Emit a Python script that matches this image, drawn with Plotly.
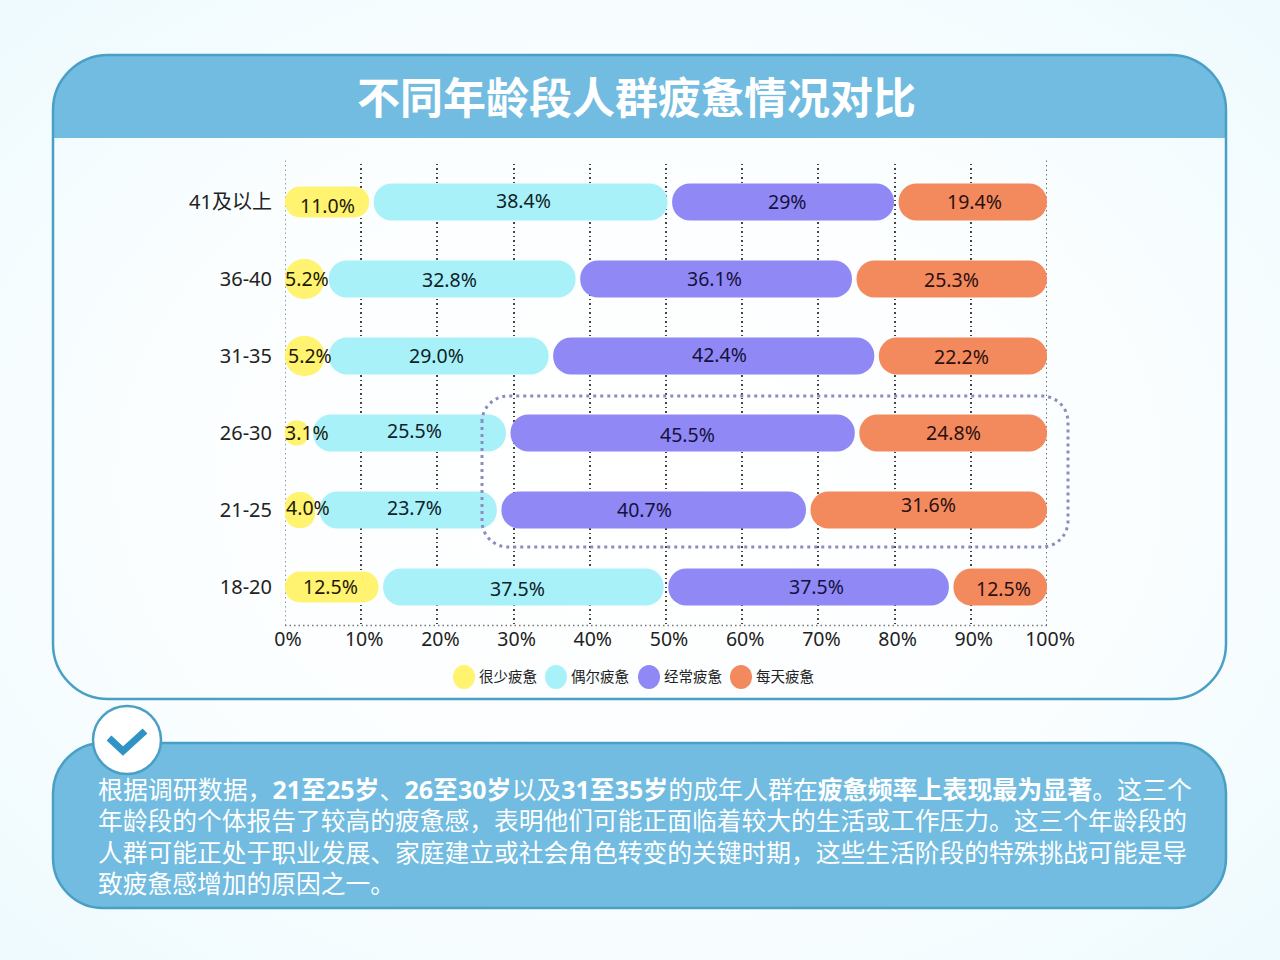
import base64
import numpy as np
import plotly.graph_objects as go

# data, top row first
age_groups = ["41及以上", "36-40", "31-35", "26-30", "21-25", "18-20"]
rarely = [11.0, 5.2, 5.2, 3.1, 4.0, 12.5]
sometimes = [38.4, 32.8, 29.0, 25.5, 23.7, 37.5]
often = [29.0, 36.1, 42.4, 45.5, 40.7, 37.5]
daily = [19.4, 25.3, 22.2, 24.8, 31.6, 12.5]
series_names = ["很少疲惫", "偶尔疲惫", "经常疲惫", "每天疲惫"]
x_ticks = [0, 10, 20, 30, 40, 50, 60, 70, 80, 90, 100]

title_text = "不同年龄段人群疲惫情况对比"
summary_lines = [
    "根据调研数据，<b>21至25岁</b>、<b>26至30岁</b>以及<b>31至35岁</b>的成年人群在<b>疲惫频率上表现最为显著</b>。这三个",
    "年龄段的个体报告了较高的疲惫感，表明他们可能正面临着较大的生活或工作压力。这三个年龄段的",
    "人群可能正处于职业发展、家庭建立或社会角色转变的关键时期，这些生活阶段的特殊挑战可能是导",
    "致疲惫感增加的原因之一。",
]

# styles
W, H = 1280, 960
FONT = "Noto Sans, Noto Sans CJK SC, sans-serif"
colors = ["#FFF36F", "#A9F1F9", "#9088F5", "#F38A5E"]
label_colors = ["#1c1a08", "#0f2228", "#15123f", "#2b1010"]
PANEL_FILL = "#71BCE0"
PANEL_LINE = "#4A9FC4"
GAP = 0.6  # space between pills, in axis percent
PLOT_TOP, PLOT_BOTTOM = 163.5, 625.5
ROW_PX = (PLOT_BOTTOM - PLOT_TOP) / len(age_groups)
PILL_PX = 37
rarely_px = [31, 40, 40, 25, 36, 31]  # yellow pills differ in height
GRID_DASH = "1.5px,3px"

# small hand placed label offsets in the original, in pixels
nudge_x = [
    [0, 2, 5, 10, 8, -1],
    [3, -3, -2, 5, 6, -6],
    [4, -2, 6, 5, -9, 8],
    [2, 0, -1, 0, 0, 3],
]
nudge_y = [
    [4, -1, -1, -1, -3, -1],
    [-1, 0, -1, -3, -3, 1],
    [0, -1, -2, 1, -1, -1],
    [0, 0, 0, -1, -6, 1],
]
summary_sizes = [24.95, 24.75, 24.75, 24.75]


def px(x):
    return x / W


def py(y):
    return 1 - y / H


def rounded(x0, y0, x1, y1, r, flat_bottom=False):
    # rounded rectangle as an svg path, paper coordinates
    X = lambda v: f"{px(v):.5f}"
    Y = lambda v: f"{py(v):.5f}"
    k = r * 0.45
    d = f"M{X(x0)},{Y(y0 + r)} C{X(x0)},{Y(y0 + k)} {X(x0 + k)},{Y(y0)} {X(x0 + r)},{Y(y0)} "
    d += f"L{X(x1 - r)},{Y(y0)} C{X(x1 - k)},{Y(y0)} {X(x1)},{Y(y0 + k)} {X(x1)},{Y(y0 + r)} "
    if flat_bottom:
        d += f"L{X(x1)},{Y(y1)} L{X(x0)},{Y(y1)} Z"
    else:
        d += f"L{X(x1)},{Y(y1 - r)} C{X(x1)},{Y(y1 - k)} {X(x1 - k)},{Y(y1)} {X(x1 - r)},{Y(y1)} "
        d += f"L{X(x0 + r)},{Y(y1)} C{X(x0 + k)},{Y(y1)} {X(x0)},{Y(y1 - k)} {X(x0)},{Y(y1 - r)} Z"
    return d


def paper_shape(path, fill="rgba(0,0,0,0)", line=None, width=0, layer="below", dash=None):
    return dict(type="path", path=path, xref="paper", yref="paper", fillcolor=fill,
                line=dict(color=line or "rgba(0,0,0,0)", width=width, dash=dash), layer=layer)


def ellipse(cx, cy, rx, ry, fill, line=None, width=0):
    return dict(type="circle", xref="paper", yref="paper", x0=px(cx - rx), x1=px(cx + rx),
                y0=py(cy + ry), y1=py(cy - ry), fillcolor=fill,
                line=dict(color=line or "rgba(0,0,0,0)", width=width), layer="below")


# each row is squeezed a little so the pills and their gaps fill 0-100
table = np.array([rarely, sometimes, often, daily])
scale = (100 - 3 * GAP) / table.sum(axis=0)
widths = table * scale
starts = np.cumsum(np.vstack([np.zeros(6), widths[:-1] + GAP]), axis=0)
mids = starts + widths / 2

fig = go.Figure()

for i, name in enumerate(series_names):
    heights = rarely_px if i == 0 else [PILL_PX] * 6
    fig.add_trace(go.Bar(
        name=name,
        orientation="h",
        y=age_groups,
        x=list(widths[i]),
        base=list(starts[i]),
        width=[h / ROW_PX for h in heights],
        marker=dict(color=colors[i], line=dict(width=0), cornerradius=20),
        showlegend=False,
        hoverinfo="skip",
    ))

annotations = []

# value labels
for i, name in enumerate(series_names):
    for j, group in enumerate(age_groups):
        value = table[i][j]
        label = "29%" if (i == 2 and value == 29.0) else f"{value:.1f}%"
        annotations.append(dict(x=mids[i][j], y=group, xref="x", yref="y", text=label,
                                showarrow=False, xshift=nudge_x[i][j], yshift=-nudge_y[i][j],
                                font=dict(size=19.5, color=label_colors[i], family=FONT)))


def paper_text(x, y, text, size, color, xanchor="left"):
    return dict(x=px(x), y=py(y), xref="paper", yref="paper", text=text, xanchor=xanchor,
                yanchor="middle", showarrow=False, borderpad=0,
                font=dict(size=size, color=color, family=FONT))


# title
annotations.append(paper_text(636, 98, f"<b>{title_text}</b>", 43, "white", xanchor="center"))

# legend
legend_x = [464, 556, 649, 741]
for i, name in enumerate(series_names):
    annotations.append(paper_text(legend_x[i] + 14, 676, name, 14.5, "#222222"))

# summary text
summary_y = [789, 820, 852, 883]
for line, y, size in zip(summary_lines, summary_y, summary_sizes):
    annotations.append(paper_text(97, y, line, size, "white"))

shapes = [
    paper_shape(rounded(53, 55, 1226, 138, 55, flat_bottom=True), fill=PANEL_FILL),
    paper_shape(rounded(53, 55, 1226, 699, 55), line=PANEL_LINE, width=2.5),
    paper_shape(rounded(53, 743, 1226, 908, 50), fill=PANEL_FILL, line=PANEL_LINE, width=2.5),
    ellipse(127, 740, 34, 34, "white", PANEL_LINE, 2.5),
    dict(type="path", xref="paper", yref="paper", layer="above",
         path=f"M{px(109):.5f},{py(738):.5f} L{px(123):.5f},{py(751):.5f} L{px(145):.5f},{py(731):.5f}",
         line=dict(color="#2F93C4", width=7), fillcolor="rgba(0,0,0,0)"),
    # dotted box around the two highlighted rows
    paper_shape(rounded(482, 396, 1068, 547, 26), line="#8D8CC0", width=3, layer="above", dash="3px,4px"),
    # bottom edge of the plot
    dict(type="line", xref="x", yref="paper", x0=0, x1=100, y0=py(PLOT_BOTTOM), y1=py(PLOT_BOTTOM),
         line=dict(color="#777777", width=1.5, dash=GRID_DASH), layer="below"),
    # plotly leaves out the grid lines on the ends of the range
    dict(type="line", xref="x", yref="paper", x0=0, x1=0, y0=py(PLOT_BOTTOM), y1=py(160),
         line=dict(color="#777777", width=1.5, dash=GRID_DASH), layer="below"),
    dict(type="line", xref="x", yref="paper", x0=100, x1=100, y0=py(PLOT_BOTTOM), y1=py(160),
         line=dict(color="#444444", width=1.5, dash=GRID_DASH), layer="below"),
]
for i, x in enumerate(legend_x):
    shapes.append(ellipse(x, 677, 11, 12, colors[i]))

# pale radial wash behind everything
bg_svg = (
    f'<svg xmlns="http://www.w3.org/2000/svg" width="{W}" height="{H}">'
    '<defs><radialGradient id="g" cx="50%" cy="50%" r="70%">'
    '<stop offset="0%" stop-color="#FFFFFF"/><stop offset="55%" stop-color="#FBFEFF"/>'
    '<stop offset="100%" stop-color="#EEFAFE"/></radialGradient></defs>'
    f'<rect width="{W}" height="{H}" fill="url(#g)"/></svg>'
)
bg_uri = "data:image/svg+xml;base64," + base64.b64encode(bg_svg.encode()).decode()

fig.update_layout(
    width=W,
    height=H,
    margin=dict(l=0, r=0, t=0, b=0),
    barmode="overlay",
    paper_bgcolor="rgba(0,0,0,0)",
    plot_bgcolor="rgba(0,0,0,0)",
    font=dict(family=FONT, color="#222222", size=18),
    hovermode=False,
    shapes=shapes,
    annotations=annotations,
    images=[dict(source=bg_uri, xref="paper", yref="paper", x=0, y=1, sizex=1, sizey=1,
                 xanchor="left", yanchor="top", sizing="stretch", layer="below")],
)
fig.update_xaxes(
    domain=[px(285), px(1047)],
    range=[0, 100],
    automargin=False,
    tickmode="array",
    tickvals=x_ticks,
    ticktext=[f"{t}%" for t in x_ticks],
    ticklabelshift=3,
    showgrid=True,
    griddash=GRID_DASH,
    gridcolor="#444444",
    gridwidth=1.5,
    zeroline=False,
    showline=False,
    ticks="",
    tickfont=dict(size=19.5, color="#222222"),
)
fig.update_yaxes(
    domain=[py(PLOT_BOTTOM), py(PLOT_TOP)],
    automargin=False,
    type="category",
    categoryorder="array",
    categoryarray=age_groups,
    range=[5.5, -0.5],
    showgrid=False,
    zeroline=False,
    showline=False,
    ticks="",
    ticklabelstandoff=12,
    tickfont=dict(size=20, color="#222222"),
)

fig.write_html("out.html", config={"displayModeBar": False},
               post_script="document.body.style.margin='0';document.body.style.overflow='hidden';")
